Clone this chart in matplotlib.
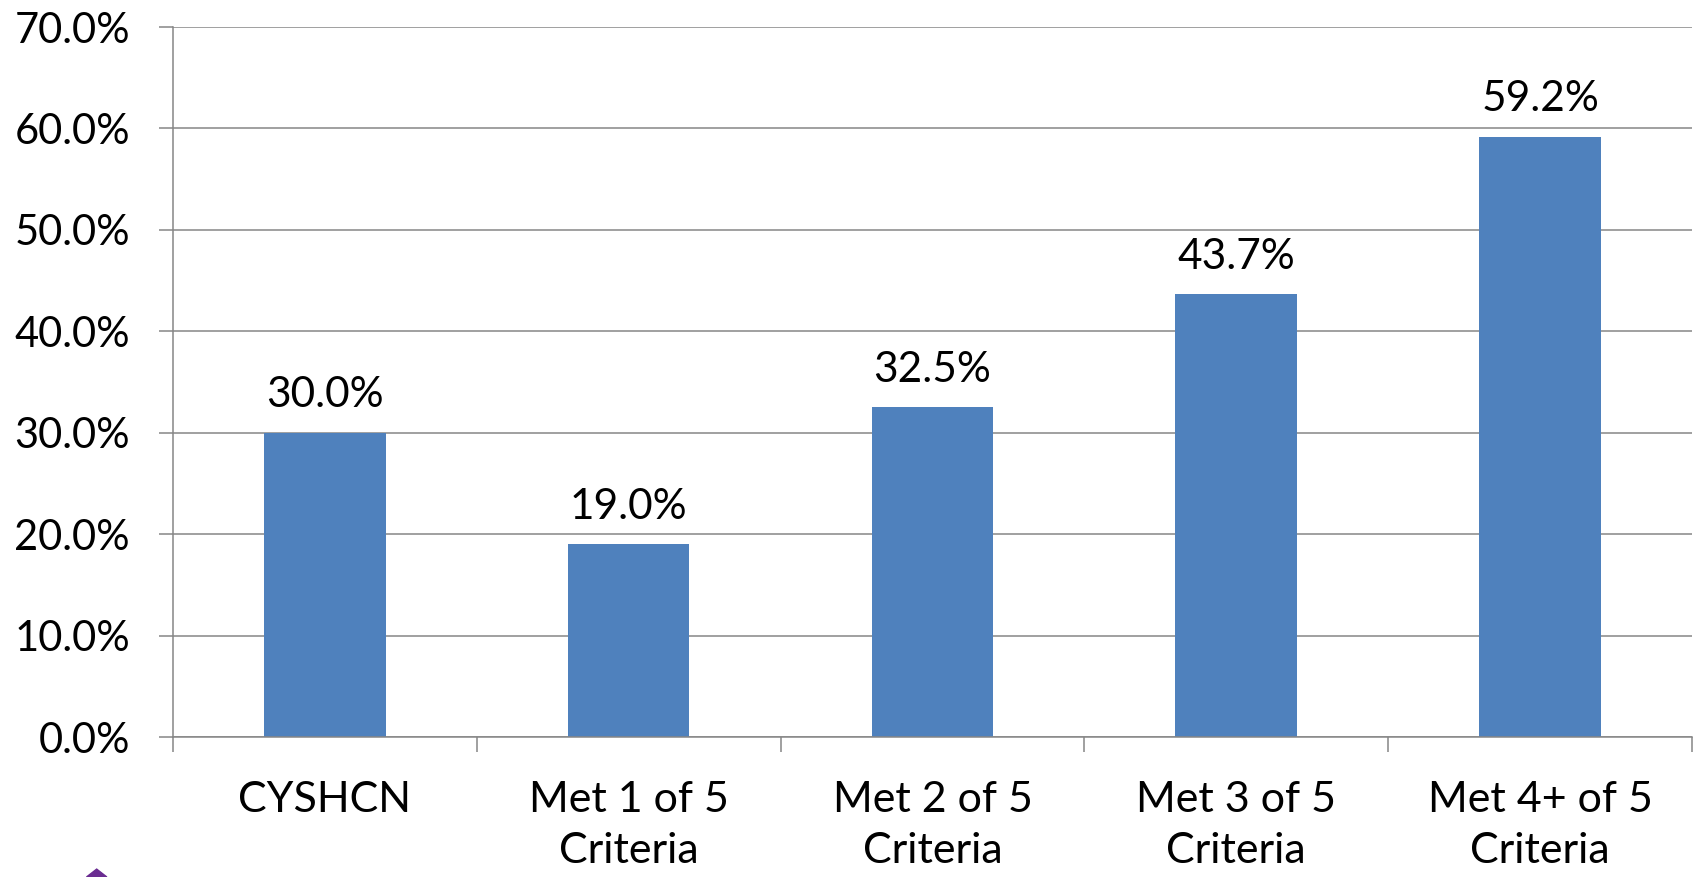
import numpy as np
import matplotlib
matplotlib.use('Agg')
import matplotlib.pyplot as plt
from matplotlib.patches import Polygon

categories = ['CYSHCN', 'Met 1 of 5\nCriteria', 'Met 2 of 5\nCriteria',
              'Met 3 of 5\nCriteria', 'Met 4+ of 5\nCriteria']
values = [30.0, 19.0, 32.5, 43.7, 59.2]
y_ticks = [0, 10, 20, 30, 40, 50, 60, 70]

BAR_COLOR = '#4F81BD'
GRID_COLOR = '#868686'
plt.rcParams['font.family'] = ['Lato', 'DejaVu Sans']

fig = plt.figure(figsize=(16.96, 8.77), dpi=100)
ax = fig.add_axes([0.102, 0.1596, 0.8956, 0.8096])

x = np.arange(len(categories))
bars = ax.bar(x, values, width=0.4, color=BAR_COLOR, zorder=3)

for xi, v in zip(x, values):
    ax.text(xi, v + 1.8, "{:.1f}%".format(v), ha='center', va='bottom',
            fontsize=30.5, color='black')

ax.set_xlim(-0.5, len(categories) - 0.5)
ax.set_ylim(0, 70)
ax.set_yticks(y_ticks)
ax.set_yticklabels(["{:.1f}%".format(t) for t in y_ticks])
ax.yaxis.grid(True, color=GRID_COLOR, lw=1.1, zorder=0)

ax.set_xticks(x)
ax.set_xticklabels(categories, linespacing=1.4)
ax.set_xticks(np.arange(-0.5, len(categories)), minor=True)
ax.tick_params(axis='x', which='major', length=0, pad=32, labelsize=31)
ax.tick_params(axis='x', which='minor', length=11, width=1.1, color=GRID_COLOR, direction='out')
ax.tick_params(axis='y', length=10, width=1.1, color=GRID_COLOR, direction='out',
               pad=21, labelsize=30)

for s in ['top', 'right']:
    ax.spines[s].set_visible(False)
for s in ['left', 'bottom']:
    ax.spines[s].set_color(GRID_COLOR)
    ax.spines[s].set_linewidth(1.1)
ax.spines['bottom'].set_zorder(4)

# corner of a purple logo cut off at the bottom
fig.patches.append(Polygon([(0.051, 0.0), (0.057, 0.009), (0.063, 0.0)],
                           closed=True, transform=fig.transFigure,
                           color='#6A2C91'))

plt.savefig('out.png', dpi=100)
